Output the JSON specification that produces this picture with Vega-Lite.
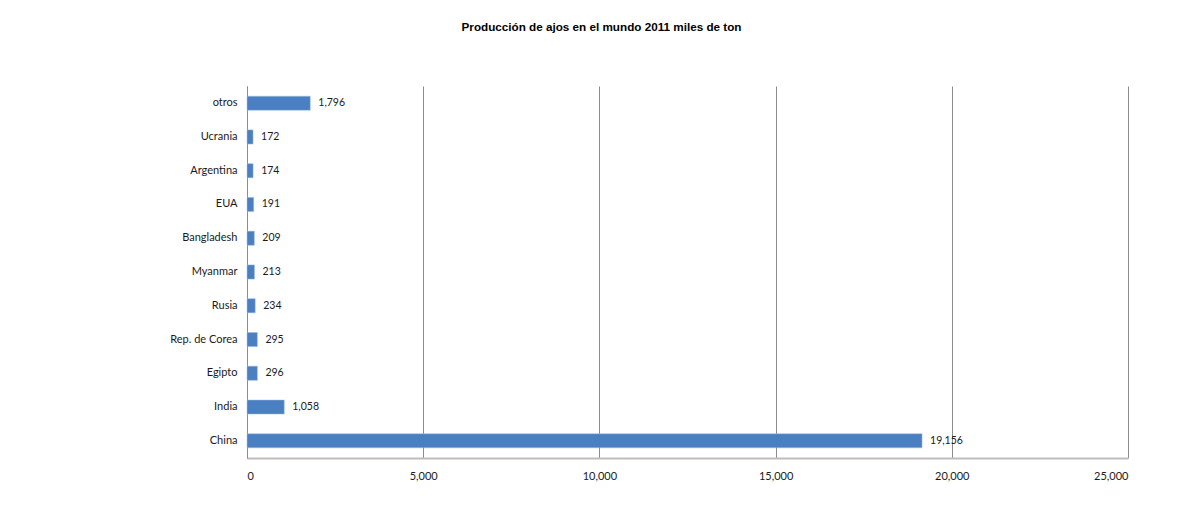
{
  "$schema": "https://vega.github.io/schema/vega-lite/v6.json",
  "width": 881,
  "height": 372,
  "autosize": {"type": "none"},
  "padding": {"left": 247, "top": 86, "right": 52, "bottom": 52},
  "background": "white",
  "title": {
    "text": "Producción de ajos en el mundo 2011 miles de ton",
    "font": "Liberation Sans",
    "fontSize": 11.7,
    "fontWeight": "bold",
    "color": "#000000",
    "anchor": "middle",
    "dx": -86,
    "offset": 52
  },
  "config": {
    "view": {"stroke": null},
    "font": "Lato"
  },
  "data": {
    "values": [
      {"pais": "otros", "valor": 1796},
      {"pais": "Ucrania", "valor": 172},
      {"pais": "Argentina", "valor": 174},
      {"pais": "EUA", "valor": 191},
      {"pais": "Bangladesh", "valor": 209},
      {"pais": "Myanmar", "valor": 213},
      {"pais": "Rusia", "valor": 234},
      {"pais": "Rep. de Corea", "valor": 295},
      {"pais": "Egipto", "valor": 296},
      {"pais": "India", "valor": 1058},
      {"pais": "China", "valor": 19156}
    ]
  },
  "encoding": {
    "y": {
      "field": "pais",
      "type": "nominal",
      "sort": null,
      "scale": {"paddingInner": 0.58, "paddingOuter": 0.3},
      "axis": {
        "title": null,
        "ticks": false,
        "domainColor": "#8c8c8c",
        "domainWidth": 1,
        "labelFont": "Lato",
        "labelFontSize": 11,
        "labelColor": "#1a1a1a",
        "labelPadding": 10
      }
    },
    "x": {
      "field": "valor",
      "type": "quantitative",
      "scale": {"domain": [0, 25000], "nice": false},
      "axis": {
        "title": null,
        "values": [0, 5000, 10000, 15000, 20000, 25000],
        "format": ",d",
        "ticks": false,
        "grid": true,
        "gridColor": "#8c8c8c",
        "gridWidth": 1,
        "domainColor": "#bdbdbd",
        "domainWidth": 2,
        "labelFont": "Lato",
        "labelFontSize": 11,
        "labelColor": "#1a1a1a",
        "labelPadding": 12
      }
    }
  },
  "layer": [
    {
      "mark": {"type": "bar", "color": "#4a7fc1", "stroke": "#a9c4e6", "strokeWidth": 0.5}
    },
    {
      "mark": {"type": "text", "align": "left", "baseline": "middle", "dx": 8, "font": "Lato", "fontSize": 10.5, "color": "#1a1a1a"},
      "encoding": {
        "text": {"field": "valor", "type": "quantitative", "format": ",d"}
      }
    }
  ]
}
